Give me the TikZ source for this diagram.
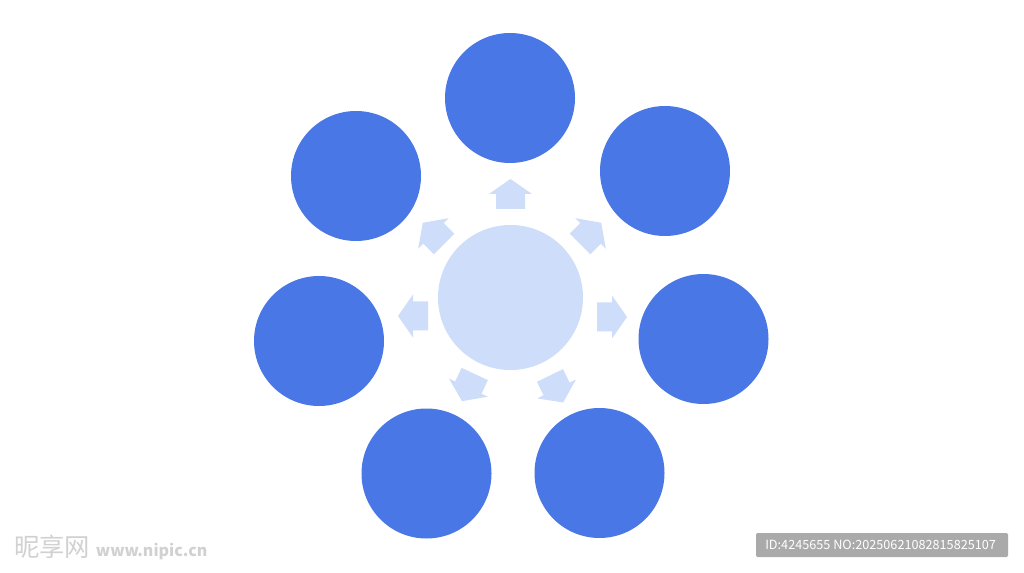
\documentclass[tikz,border=0pt]{standalone}
\usepackage{fontspec}
\newfontfamily\cjkfont{Noto Sans CJK SC}
\definecolor{mainblue}{RGB}{74,119,230}
\definecolor{lightblue}{RGB}{206,222,250}
\definecolor{wmgray}{RGB}{170,170,170}
\tikzset{
  outer/.style={circle, fill=mainblue, minimum size=97.5pt, inner sep=0pt, draw=none},
  hub/.style={circle, fill=lightblue, minimum size=108.75pt, inner sep=0pt, draw=none},
  barrow/.pic={\fill[lightblue] (0,-14.5) -- (15,-14.5) -- (15,-21.5) -- (30,0) -- (15,21.5) -- (15,14.5) -- (0,14.5) -- cycle;},
}
\begin{document}
\begin{tikzpicture}[x=0.75pt,y=-0.75pt]
\useasboundingbox (0,0) rectangle (1024,573);
\fill[white] (0,0) rectangle (1024,573);
% hub
\node[hub] (hub) at (510.5,297.5) {};
% outer circles
\node[outer] (ctop) at (510,98) {};
\node[outer] (ctr) at (665,171) {};
\node[outer] (cr) at (703.5,339) {};
\node[outer] (cbr) at (599.5,473) {};
\node[outer] (cbl) at (426.5,473.5) {};
\node[outer] (cl) at (319,341) {};
\node[outer] (ctl) at (356,176) {};
% block arrows
\pic[rotate=90] at (510.5,209) {barrow};
\pic[rotate=0] at (597,317) {barrow};
\pic[rotate=180] at (428,316) {barrow};
\pic[rotate=45] at (580,244) {barrow};
\pic[rotate=135] at (444,244) {barrow};
\pic[rotate=-115] at (474.7,374) {barrow};
\pic[rotate=-64] at (550,375.5) {barrow};
% watermarks
\node[anchor=west, inner sep=0pt, text=black!18, font=\cjkfont\fontsize{19}{19}\selectfont] (wm1) at (14,547) {昵享网 \fontsize{12}{12}\selectfont\bfseries\itshape www.nipic.cn};
\fill[wmgray, rounded corners=1pt] (756,533) rectangle (1008,557);
\node[anchor=west, inner sep=0pt, text=white, font=\cjkfont\fontsize{9.5}{9.5}\selectfont] (wm2) at (765,545) {ID:4245655 NO:20250621082815825107};
\end{tikzpicture}
\end{document}
